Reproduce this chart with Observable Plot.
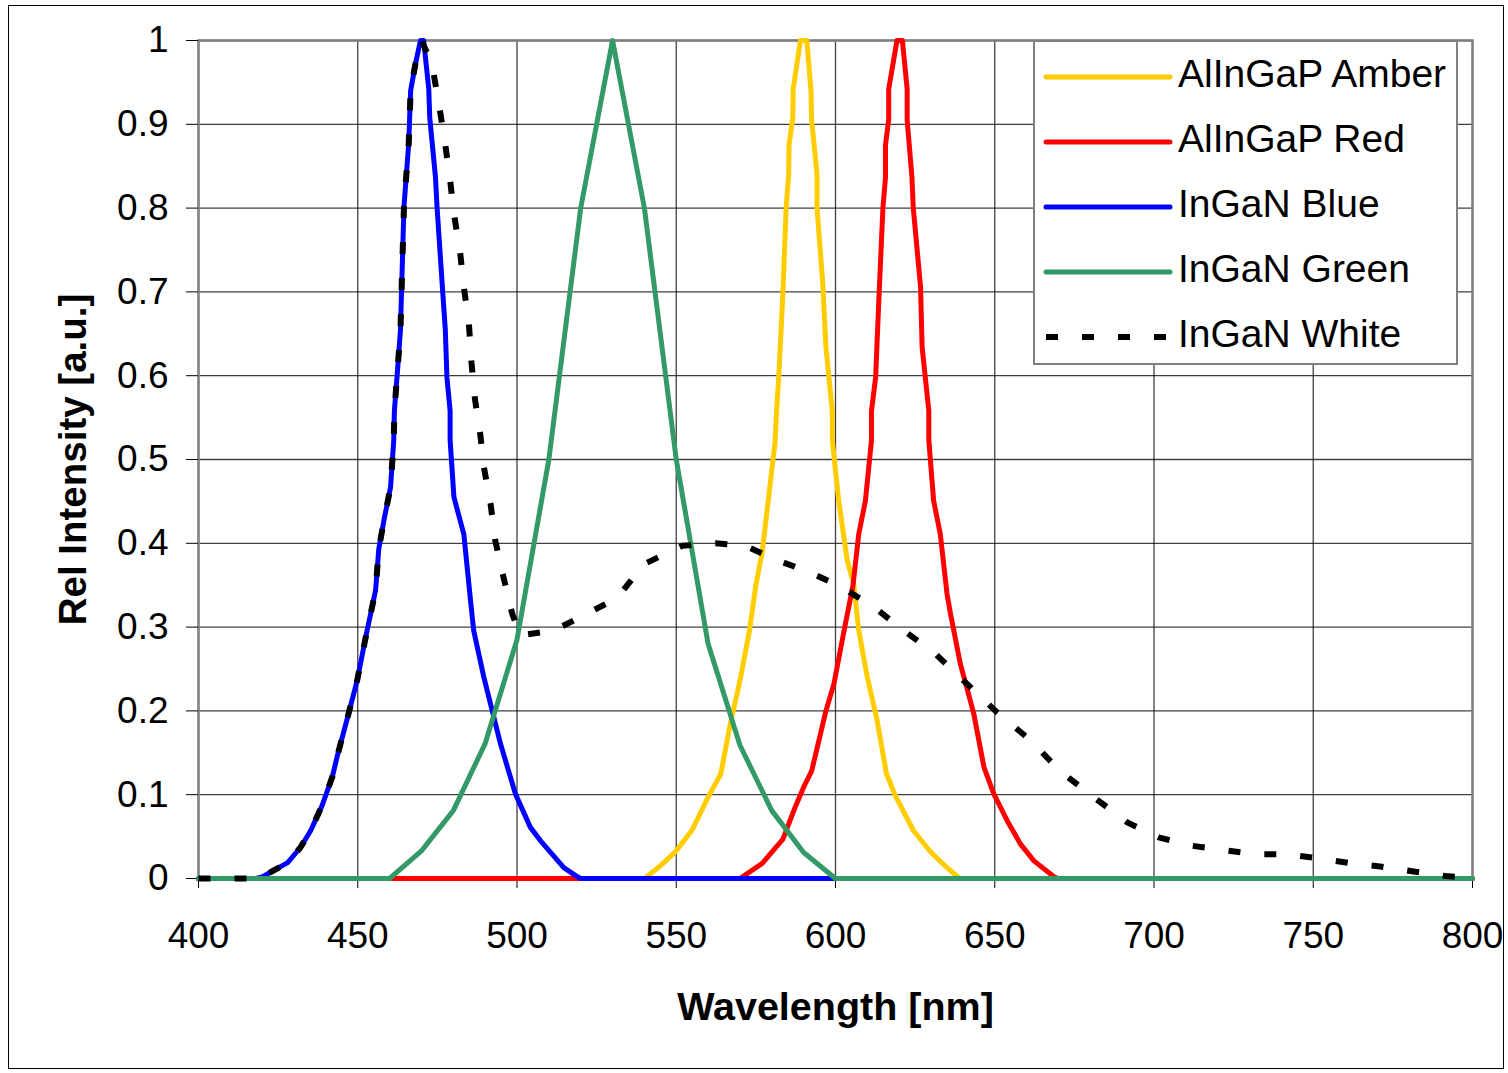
<!DOCTYPE html>
<html>
<head>
<meta charset="utf-8">
<script src="https://cdn.jsdelivr.net/npm/d3@7"></script>
<script src="https://cdn.jsdelivr.net/npm/@observablehq/plot@0.6"></script>
<style>
  html, body { margin: 0; padding: 0; background: #fff; }
  #wrap { position: relative; width: 1508px; height: 1073px; font-family: "Liberation Sans", Arial, sans-serif; }
  #border { position: absolute; left: 8px; top: 5px; width: 1496px; height: 1064px; border: 1.5px solid #000; box-sizing: border-box; pointer-events: none; }
  #legend { position: absolute; left: 1033px; top: 40px; }
</style>
</head>
<body>
<div id="wrap">
  <div id="chart"></div>
  <div id="border"></div>
  <div id="legend"></div>
</div>
<script>
// ---- Data (wavelength nm, relative intensity) ----
const seriesNames = ["AlInGaP Amber", "AlInGaP Red", "InGaN Blue", "InGaN Green", "InGaN White"];
const seriesColors = ["#FFCC00", "#FF0000", "#0000FF", "#339966", "#000000"];

const amber = [[400,0],[540,0],[545,0.015],[550,0.033],[555,0.058],[560,0.097],[564,0.125],[567,0.185],[570,0.236],[573,0.296],[575,0.35],[577,0.39],[579,0.455],[581,0.52],[581.5,0.558],[582.2,0.6],[583.5,0.7],[584.5,0.8],[585.3,0.84],[585.4,0.875],[586.6,0.908],[586.7,0.942],[589,1.0],[591,1.0],[592.3,0.94],[592.5,0.905],[594.2,0.84],[594.2,0.8],[596,0.71],[597,0.634],[599,0.558],[599,0.523],[601,0.451],[603.7,0.379],[605.7,0.352],[607.3,0.296],[610,0.24],[613,0.19],[616,0.125],[619,0.097],[624.5,0.057],[630,0.031],[635,0.013],[639,0],[800,0]];

const red = [[400,0],[570,0],[577,0.018],[583.5,0.047],[587,0.082],[590,0.109],[592.5,0.128],[597,0.2],[599.5,0.232],[602.6,0.294],[605.5,0.35],[607.3,0.411],[609.4,0.451],[611.3,0.523],[611.3,0.558],[612.6,0.598],[613.6,0.69],[614.9,0.801],[615.7,0.837],[615.7,0.875],[616.7,0.906],[616.7,0.942],[619.3,1.0],[621,1.0],[622.5,0.942],[622.5,0.905],[624,0.837],[624.4,0.801],[626.7,0.706],[627.2,0.634],[629.3,0.558],[629.3,0.523],[630.8,0.451],[632.9,0.411],[635,0.34],[636.1,0.316],[639.2,0.256],[643.4,0.197],[646.6,0.133],[649.7,0.101],[653.9,0.069],[658.1,0.041],[662.3,0.021],[668.6,0.002],[670,0],[800,0]];

const blue = [[400,0],[418,0],[420,0.002],[428,0.019],[432,0.037],[435.2,0.057],[438.8,0.087],[442,0.121],[443.5,0.145],[447.2,0.198],[449.8,0.236],[452.4,0.286],[455.6,0.344],[456.6,0.393],[458.2,0.427],[460.3,0.467],[461.3,0.523],[461.5,0.558],[462.4,0.602],[463.4,0.654],[464.5,0.801],[466,0.877],[466.6,0.94],[468.1,0.972],[469.7,1.0],[470.7,1.0],[472.3,0.942],[472.6,0.908],[474.4,0.837],[474.9,0.801],[476.5,0.71],[477.5,0.654],[478,0.598],[479,0.558],[479,0.523],[480.2,0.455],[483.3,0.411],[485.4,0.332],[486.4,0.296],[489.6,0.24],[494.8,0.161],[499.5,0.101],[504.2,0.061],[507.4,0.045],[514.7,0.013],[519,0.002],[520,0],[600,0]];

const green = [[400,0],[460,0],[470,0.033],[480,0.081],[490,0.161],[500,0.285],[510,0.5],[520,0.8],[530,1.0],[540,0.8],[550,0.5],[560,0.28],[570,0.159],[580,0.081],[590,0.031],[600,0],[800,0]];

const white = [[400,0],[418,0],[420,0.002],[428,0.019],[432,0.037],[435.2,0.057],[438.8,0.087],[442,0.121],[443.5,0.145],[447.2,0.198],[449.8,0.236],[452.4,0.286],[455.6,0.344],[456.6,0.393],[458.2,0.427],[460.3,0.467],[461.3,0.523],[461.5,0.558],[462.4,0.602],[463.4,0.654],[464.5,0.801],[466,0.877],[466.6,0.94],[468.1,0.972],[470,1.0],[473.3,0.972],[475.4,0.926],[477.2,0.883],[478.9,0.837],[480.2,0.793],[482.1,0.749],[483.3,0.706],[484.9,0.662],[485.7,0.616],[486.8,0.572],[488.5,0.529],[489.6,0.491],[491.7,0.447],[493.2,0.403],[495.6,0.362],[498.5,0.316],[501,0.29],[511.6,0.296],[521,0.314],[531.5,0.335],[539.8,0.375],[551.9,0.397],[562.3,0.4],[571.7,0.397],[582.2,0.379],[591.6,0.366],[601.8,0.348],[612,0.324],[621.4,0.296],[631.4,0.268],[640.8,0.234],[650.8,0.198],[660.9,0.166],[670.6,0.128],[681.1,0.097],[691.6,0.067],[701.5,0.049],[712,0.039],[721.4,0.034],[731.9,0.029],[741.3,0.029],[751.8,0.024],[762.2,0.018],[771.6,0.014],[782.1,0.008],[791.5,0.003],[800,0]];

const xTicks = [400, 450, 500, 550, 600, 650, 700, 750, 800];
const yTicks = [0, 0.1, 0.2, 0.3, 0.4, 0.5, 0.6, 0.7, 0.8, 0.9, 1];
const xTitle = "Wavelength [nm]";
const yTitle = "Rel Intensity [a.u.]";

// ---- Build ----
const seriesData = [amber, red, blue, green, white];
const rows = (arr, name) => arr.map(([w, v]) => ({w, v, name}));

const font = "'Liberation Sans', Arial, sans-serif";
const lineMarks = seriesData.map((arr, i) =>
  Plot.line(rows(arr, seriesNames[i]), {
    x: "w", y: "v",
    stroke: seriesColors[i],
    strokeWidth: i === 4 ? 6 : 5,
    strokeLinejoin: "round",
    strokeLinecap: i === 4 ? "butt" : "round",
    strokeDasharray: i === 4 ? "12,24" : null
  })
);

const chart = Plot.plot({
  width: 1508,
  height: 1073,
  marginLeft: 198,
  marginRight: 36,
  marginTop: 40,
  marginBottom: 195,
  style: {fontFamily: font, background: "transparent", overflow: "visible"},
  x: {domain: [400, 800]},
  y: {domain: [0, 1]},
  marks: [
    Plot.gridX(xTicks, {stroke: "#000", strokeOpacity: 0.75, strokeWidth: 1.3}),
    Plot.gridY(yTicks, {stroke: "#000", strokeOpacity: 0.75, strokeWidth: 1.3}),
    Plot.frame({stroke: "#808080", strokeWidth: 2.5}),
    Plot.axisX({ticks: xTicks, tickSize: 10, tickPadding: 33, fontSize: 37, label: null, stroke: "#000", color: "#000", tickFormat: d => String(d)}),
    Plot.axisY({ticks: yTicks, tickSize: 12, tickPadding: 18, fontSize: 37, label: null, stroke: "#000", color: "#000", tickFormat: d => String(d)}),
    ...lineMarks,
    Plot.text([xTitle], {frameAnchor: "bottom", dy: 129, fontSize: 39.5, fontWeight: "bold", fill: "#000", text: d => d, textAnchor: "middle", lineAnchor: "middle"}),
    Plot.text([yTitle], {frameAnchor: "left", dx: -125, rotate: -90, fontSize: 38.5, fontWeight: "bold", fill: "#000", text: d => d, textAnchor: "middle", lineAnchor: "middle"})
  ]
});
document.getElementById("chart").appendChild(chart);

// ---- Legend ----
const lg = d3.select("#legend").append("svg")
  .attr("width", 426).attr("height", 326)
  .style("font-family", font);
lg.append("rect").attr("x", 1).attr("y", 1).attr("width", 423).attr("height", 323)
  .attr("fill", "#fff").attr("stroke", "#808080").attr("stroke-width", 2);
seriesNames.forEach((name, i) => {
  const cy = 37 + i * 65;
  lg.append("line").attr("x1", 13).attr("x2", 137).attr("y1", cy).attr("y2", cy)
    .attr("stroke", seriesColors[i]).attr("stroke-width", i === 4 ? 6 : 5)
    .attr("stroke-linecap", i === 4 ? "butt" : "round")
    .attr("stroke-dasharray", i === 4 ? "12,24" : null);
  lg.append("text").attr("x", 145).attr("y", cy - 4).attr("dy", "0.35em")
    .attr("font-size", 39).attr("fill", "#000").text(name);
});
</script>
</body>
</html>
